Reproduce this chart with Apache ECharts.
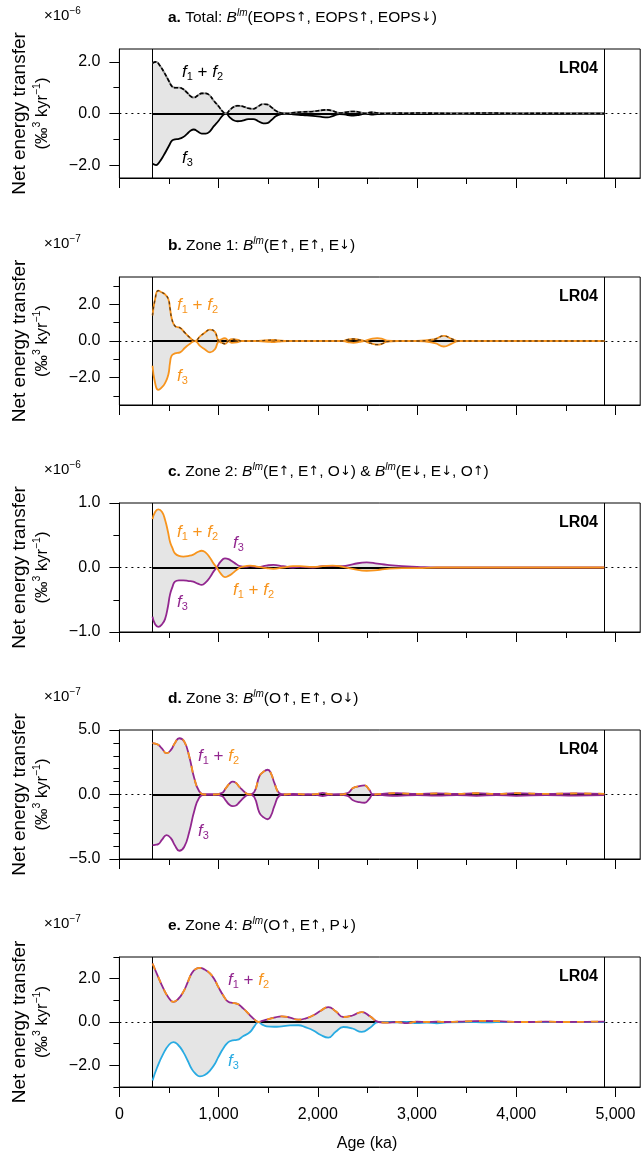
<!DOCTYPE html>
<html><head><meta charset="utf-8">
<script src="https://cdn.jsdelivr.net/npm/echarts@6/dist/echarts.min.js"></script>
<style>html,body{margin:0;padding:0;background:#fff}#c{width:641px;height:1160px}</style>
</head><body><div id="c"></div>
<script>
// ---------------- DATA ----------------
const recordStart = 334, recordEnd = 4888;   // ka, span of LR04 analysed
const xMax = 5250;
const xTickMajor = [0, 1000, 2000, 3000, 4000, 5000];
const xTickMinor = [500, 1500, 2500, 3500, 4500];

// Panel a (x1e-6)
const agesA = [334,370,400,450,500,530,560,600,640,680,720,750,790,830,870,910,950,1000,1040,1075,1110,1150,1190,1240,1300,1350,1400,1450,1490,1530,1580,1630,1680,1750,1850,1950,2050,2100,2150,2220,2300,2360,2420,2480,2540,2600,2700,2800,2900,3000,3200,3400,3700,4000,4300,4600,4888];
const f12A = [1.95,2.0,1.9,1.6,1.25,1.05,1.0,1.0,0.95,0.82,0.66,0.62,0.7,0.78,0.78,0.7,0.5,0.28,0.08,0.0,0.12,0.25,0.3,0.28,0.2,0.18,0.28,0.36,0.35,0.25,0.1,0.02,0.0,0.03,0.06,0.08,0.13,0.14,0.1,0.02,0.06,0.08,0.05,0.0,0.05,0.02,0.0,0.02,0.01,0.02,0.01,0.0,0.02,0.0,0.01,0.0,0.0];
const f3A  = [-1.95,-2.0,-1.9,-1.6,-1.25,-1.05,-1.0,-0.98,-0.92,-0.8,-0.66,-0.62,-0.7,-0.78,-0.78,-0.7,-0.5,-0.28,-0.08,0.0,-0.14,-0.26,-0.3,-0.28,-0.22,-0.22,-0.3,-0.38,-0.37,-0.26,-0.1,-0.02,0.0,-0.03,-0.06,-0.09,-0.14,-0.15,-0.1,-0.02,-0.06,-0.08,-0.05,0.0,-0.04,-0.02,0.0,-0.02,-0.01,-0.02,-0.01,0.0,-0.02,0.0,-0.01,0.0,0.0];

// Panel b (x1e-7)
const agesB = [334,360,392,430,460,493,510,527,560,611,661,712,762,812,860,913,963,995,1030,1064,1100,1132,1183,1230,1300,1400,1500,1550,1600,1700,1900,2100,2250,2300,2360,2420,2470,2530,2600,2650,2700,2800,3000,3180,3270,3350,3420,3600,3900,4200,4500,4888];
const f12B = [1.4,2.3,2.75,2.65,2.55,2.3,1.8,1.25,0.82,0.72,0.45,0.18,0.0,0.25,0.45,0.62,0.5,0.05,-0.1,-0.15,0.0,0.1,0.08,0.0,0.0,0.01,0.04,0.06,0.03,0.0,0.0,0.0,0.0,0.08,0.11,0.06,0.0,-0.12,-0.2,-0.15,-0.03,0.0,0.0,0.1,0.28,0.12,0.0,0.0,0.0,0.0,0.0,0.0];
const f3B  = [-1.35,-2.3,-2.67,-2.52,-2.3,-1.85,-1.2,-0.8,-0.68,-0.62,-0.37,-0.15,0.0,-0.27,-0.45,-0.62,-0.45,-0.05,0.1,0.15,0.0,-0.1,-0.08,0.0,0.0,-0.01,-0.04,-0.06,-0.03,0.0,0.0,0.0,0.0,-0.06,-0.1,-0.05,0.0,0.1,0.16,0.12,0.02,0.0,0.0,-0.12,-0.3,-0.14,0.0,0.0,0.0,0.0,0.0,0.0];

// Panel c (x1e-6)
const agesC = [334,360,392,430,460,490,510,535,560,600,644,700,745,790,830,870,913,950,981,1020,1064,1100,1132,1180,1216,1270,1317,1400,1480,1552,1650,1750,1821,1950,2050,2150,2250,2350,2493,2600,2700,2850,3000,3200,3400,3700,4000,4400,4888];
const f12C = [0.75,0.86,0.9,0.86,0.74,0.55,0.4,0.3,0.22,0.18,0.17,0.18,0.2,0.24,0.26,0.23,0.15,0.06,0.0,-0.09,-0.15,-0.13,-0.1,-0.04,0.0,0.02,0.03,0.01,-0.01,-0.02,0.0,0.02,0.02,0.01,0.02,0.03,0.01,-0.02,-0.05,-0.04,-0.02,-0.01,-0.01,0,0,0,0,0,0];
const f3C  = [-0.76,-0.88,-0.92,-0.88,-0.8,-0.6,-0.42,-0.3,-0.22,-0.2,-0.2,-0.21,-0.22,-0.25,-0.27,-0.23,-0.15,-0.06,0.0,0.09,0.14,0.13,0.1,0.05,0.02,0.01,0.02,0.01,0.03,0.04,0.02,0.0,0.01,0.0,0.02,0.02,0.02,0.05,0.08,0.06,0.04,0.02,0.01,0,0,0,0,0,0];

// Panel d (x1e-7)
const agesD = [334,360,392,430,475,520,560,604,654,704,754,804,855,950,1030,1075,1110,1142,1175,1209,1276,1310,1360,1411,1450,1495,1530,1562,1612,1662,1750,1900,2000,2048,2100,2200,2300,2355,2420,2472,2520,2556,2650,2800,3000,3200,3400,3600,3800,4000,4300,4600,4888];
const f12D = [3.98,3.95,3.85,3.55,3.2,3.46,4.0,4.36,4.1,2.95,1.28,0.25,0,0,0.1,0.51,0.85,1.0,0.9,0.6,0.1,0,0.2,1.4,1.75,1.92,1.6,0.9,0.1,0,0.05,0,0.05,0.12,0.05,0,0.1,0.5,0.65,0.7,0.35,0,0.05,0.1,0.05,0.08,0.05,0.1,0.05,0.1,0.05,0.08,0.05];
const f3D  = [-3.92,-3.9,-3.85,-3.5,-3.15,-3.4,-3.95,-4.36,-4.05,-2.9,-1.3,-0.25,0,0,-0.1,-0.5,-0.8,-0.9,-0.85,-0.6,-0.1,0,-0.2,-1.4,-1.75,-1.92,-1.6,-0.9,-0.1,0,-0.05,0,-0.05,-0.12,-0.05,0,-0.1,-0.45,-0.6,-0.64,-0.33,0,-0.05,-0.1,-0.05,-0.08,-0.05,-0.1,-0.05,-0.1,-0.05,-0.08,-0.05];

// Panel e (x1e-7)
const agesE = [334,380,443,500,544,590,644,690,728,770,812,860,913,960,997,1050,1098,1140,1183,1250,1317,1360,1401,1440,1485,1560,1636,1720,1804,1880,1955,2030,2106,2180,2258,2350,2443,2530,2611,2700,2800,2900,3000,3100,3200,3300,3500,3700,3900,4100,4300,4500,4700,4888];
const f12E = [2.7,2.2,1.55,1.1,0.93,1.05,1.39,1.85,2.24,2.45,2.5,2.42,2.24,1.95,1.62,1.2,0.93,0.88,0.85,0.62,0.31,0.12,0,0.05,0.11,0.2,0.26,0.2,0.11,0.17,0.31,0.52,0.69,0.5,0.23,0.3,0.46,0.25,0,-0.03,0,-0.05,0.02,0,0.02,0,0.03,0.05,0.02,0,0.02,0,0.01,0.02];
const f3E  = [-2.7,-2.1,-1.46,-1.05,-0.93,-1.05,-1.39,-1.8,-2.16,-2.4,-2.51,-2.45,-2.24,-1.95,-1.62,-1.2,-0.93,-0.85,-0.83,-0.65,-0.46,-0.2,0,-0.12,-0.2,-0.22,-0.2,-0.16,-0.15,-0.25,-0.39,-0.6,-0.72,-0.45,-0.23,-0.3,-0.46,-0.25,0,0,-0.02,0,-0.05,-0.03,-0.06,-0.02,0,-0.02,0,0,0,0,0,0];

const yMaxes   = [2.5, 3.5, 1.0, 5.0, 3.0];
const yMajors  = [[-2,0,2],[-2,0,2],[-1,0,1],[-5,0,5],[-2,0,2]];
const yMinors  = [[-1,1],[-3,-1,1,3],[-0.5,0.5],[-4,-3,-2,-1,1,2,3,4],[-3,-1,1,3]];
const exponents = ['\u22126','\u22127','\u22126','\u22127','\u22127'];

// ---------------- STYLE ----------------
const FONT = '"Liberation Sans", Arial, Helvetica, sans-serif';
const ARROWFONT = '"DejaVu Sans", sans-serif';
const ORANGE = '#F7941D', PURPLE = '#92278F', BLUE = '#29ABE2', FILL = '#e5e5e5';
const GRID_TOPS = [49, 277, 503, 730, 957];
const GRID_H = [129, 128, 129, 129, 130];
const GRID_LEFT = 119.4, GRID_W = 520.8;

const panels = [
  {ages: agesA, f12: f12A, f3: f3A, c12: '#8c8c8c', over: {color:'#000', type:[4,2], width:1.6}, c3: '#000'},
  {ages: agesB, f12: f12B, f3: f3B, c12: ORANGE, over: {color:'rgba(70,45,20,0.85)', type:[3,3], width:1.3}, c3: ORANGE},
  {ages: agesC, f12: f12C, f3: f3C, c12: ORANGE, over: null, c3: PURPLE},
  {ages: agesD, f12: f12D, f3: f3D, c12: PURPLE, over: {color: ORANGE, type:[7,7], width:1.8}, c3: PURPLE},
  {ages: agesE, f12: f12E, f3: f3E, c12: PURPLE, over: {color: ORANGE, type:[7,7], width:1.8}, c3: BLUE}
];

const pts = (ages, v) => ages.map((a, i) => [a, v[i]]);
const fmtY = v => (v < 0 ? '\u2212' : '') + Math.abs(v).toFixed(1);
const fmtX = v => v === 0 ? '0' : v.toLocaleString('en-US');

const grid = [], xAxis = [], yAxis = [], series = [];
panels.forEach((p, i) => {
  grid.push({left: GRID_LEFT, top: GRID_TOPS[i], width: GRID_W, height: GRID_H[i], show: true, borderColor: '#000', borderWidth: 1, backgroundColor: 'transparent'});
  xAxis.push({gridIndex: i, type: 'value', min: 0, max: xMax, position: 'bottom',
    axisLine: {show: true, onZero: false, lineStyle: {color: '#000', width: 1}},
    axisTick: {show: true, length: 10, customValues: xTickMajor, lineStyle: {color: '#000', width: 1}},
    axisLabel: {show: i === 4, customValues: xTickMajor, formatter: fmtX, color: '#000', fontSize: 16, fontFamily: FONT, margin: 20},
    splitLine: {show: false}});
  xAxis.push({gridIndex: i, type: 'value', min: 0, max: xMax, position: 'bottom',
    axisLine: {show: false, onZero: false},
    axisTick: {show: true, length: 6, customValues: xTickMinor, lineStyle: {color: '#000', width: 1}},
    axisLabel: {show: false}, splitLine: {show: false}});
  yAxis.push({gridIndex: i, type: 'value', min: -yMaxes[i], max: yMaxes[i], position: 'left',
    axisLine: {show: true, onZero: false, lineStyle: {color: '#000', width: 1}},
    axisTick: {show: true, length: 10, customValues: yMajors[i], lineStyle: {color: '#000', width: 1}},
    axisLabel: {show: true, customValues: yMajors[i], formatter: fmtY, color: '#000', fontSize: 16, fontFamily: FONT, margin: 19},
    splitLine: {show: false}});
  yAxis.push({gridIndex: i, type: 'value', min: -yMaxes[i], max: yMaxes[i], position: 'left',
    axisLine: {show: false, onZero: false},
    axisTick: {show: true, length: 6, customValues: yMinors[i], lineStyle: {color: '#000', width: 1}},
    axisLabel: {show: false}, splitLine: {show: false}});

  const xi = 2 * i, yi = 2 * i;
  const base = {type: 'line', xAxisIndex: xi, yAxisIndex: yi, smooth: 0.5, showSymbol: false, symbol: 'none', silent: true, animation: false};
  series.push(Object.assign({}, base, {data: pts(p.ages, p.f12), lineStyle: {width: 0, opacity: 0}, areaStyle: {color: FILL, opacity: 1}, z: 1}));
  series.push(Object.assign({}, base, {data: pts(p.ages, p.f3), lineStyle: {width: 0, opacity: 0}, areaStyle: {color: FILL, opacity: 1}, z: 1}));
  series.push(Object.assign({}, base, {data: [[recordStart, 0]], lineStyle: {opacity: 0}, z: 2,
    markLine: {silent: true, symbol: 'none', z: 2, label: {show: false}, animation: false,
      data: [
        {yAxis: 0, lineStyle: {color: '#000', type: [2, 4], width: 1}},
        {xAxis: recordStart, lineStyle: {color: '#000', type: 'solid', width: 1}},
        {xAxis: recordEnd, lineStyle: {color: '#000', type: 'solid', width: 1}},
        [{coord: [recordStart, 0], lineStyle: {color: '#000', type: 'solid', width: 1.8}}, {coord: [recordEnd, 0]}]
      ]}}));
  series.push(Object.assign({}, base, {data: pts(p.ages, p.f3), lineStyle: {color: p.c3, width: 1.8}, z: 3}));
  series.push(Object.assign({}, base, {data: pts(p.ages, p.f12), lineStyle: {color: p.c12, width: 1.8}, z: 3}));
  if (p.over) series.push(Object.assign({}, base, {data: pts(p.ages, p.f12), lineStyle: p.over, z: 4}));
});

// ---------------- TEXT ----------------
const graphic = [];
const TS = 15.5;
const titleRich = {
  b: {fontWeight: 'bold', fontSize: TS, fontFamily: FONT, fill: '#000', lineHeight: 20},
  n: {fontSize: TS, fontFamily: FONT, fill: '#000', lineHeight: 20},
  a: {fontSize: 13, fontFamily: ARROWFONT, fill: '#000', lineHeight: 20},
  i: {fontStyle: 'italic', fontSize: TS, fontFamily: FONT, fill: '#000', lineHeight: 20},
  s: {fontStyle: 'italic', fontSize: 10, fontFamily: FONT, fill: '#000', verticalAlign: 'top', lineHeight: 11}
};
const U = '{a|\u2191}', D = '{a|\u2193}';
const titles = [
  `{b|a.}{n| Total: }{i|B}{s|lm}{n|(EOPS}${U}{n|, EOPS}${U}{n|, EOPS}${D}{n|)}`,
  `{b|b.}{n| Zone 1: }{i|B}{s|lm}{n|(E}${U}{n|, E}${U}{n|, E}${D}{n|)}`,
  `{b|c.}{n| Zone 2: }{i|B}{s|lm}{n|(E}${U}{n|, E}${U}{n|, O}${D}{n|) & }{i|B}{s|lm}{n|(E}${D}{n|, E}${D}{n|, O}${U}{n|)}`,
  `{b|d.}{n| Zone 3: }{i|B}{s|lm}{n|(O}${U}{n|, E}${U}{n|, O}${D}{n|)}`,
  `{b|e.}{n| Zone 4: }{i|B}{s|lm}{n|(O}${U}{n|, E}${U}{n|, P}${D}{n|)}`
];
function txt(x, y, text, rich, opts) {
  return Object.assign({type: 'text', x: x, y: y, silent: true, z: 100,
    style: Object.assign({text: text, rich: rich, fontFamily: FONT, fontSize: 16, fill: '#000',
      align: 'left', verticalAlign: 'middle', textAlign: 'left', textVerticalAlign: 'middle'}, opts && opts.style || {})},
    opts && opts.el || {});
}
const expRich = {
  n: {fontSize: 15, fontFamily: FONT, fill: '#000', lineHeight: 20},
  s: {fontSize: 10, fontFamily: FONT, fill: '#000', verticalAlign: 'top', lineHeight: 11}
};
const yNameRich = {
  n: {fontSize: 16.5, fontFamily: FONT, fill: '#000', lineHeight: 20},
  s: {fontSize: 10.5, fontFamily: FONT, fill: '#000', verticalAlign: 'top', lineHeight: 11}
};
function fRich(col) {
  return {fontStyle: 'italic', fontSize: 17, fontFamily: FONT, fill: col, lineHeight: 20};
}
function sRich(col) {
  return {fontSize: 11, fontFamily: FONT, fill: col, verticalAlign: 'bottom', lineHeight: 10};
}
function pRich(col) {
  return {fontSize: 17, fontFamily: FONT, fill: col, lineHeight: 20};
}
const labRich = {
  fK: fRich('#000'), sK: sRich('#000'), pK: pRich('#000'),
  fO: fRich(ORANGE), sO: sRich(ORANGE), pO: pRich(ORANGE),
  fP: fRich(PURPLE), sP: sRich(PURPLE), pP: pRich(PURPLE),
  fB: fRich(BLUE), sB: sRich(BLUE), pB: pRich(BLUE)
};
const f12Text = (c1, c2) => `{f${c1}|f}{s${c1}|1}{p${c1}| + }{f${c2}|f}{s${c2}|2}`;
const f3Text = c => `{f${c}|f}{s${c}|3}`;

panels.forEach((p, i) => {
  const top = GRID_TOPS[i], mid = top + GRID_H[i] / 2;
  graphic.push(txt(168, top - 31, titles[i], titleRich));
  graphic.push(txt(44, top - 33, '{n|\u00d710}{s|' + exponents[i] + '}', expRich));
  graphic.push(txt(598, top + 20, 'LR04', null, {style: {fontWeight: 'bold', fontSize: 16, align: 'right', textAlign: 'right'}}));
  graphic.push(txt(20, mid, 'Net energy transfer', null, {style: {fontSize: 19, align: 'center', textAlign: 'center'}, el: {rotation: Math.PI / 2}}));
  graphic.push(txt(42, mid, '{n|(\u2030}{s|3}{n| kyr}{s|\u22121}{n|)}', yNameRich, {style: {align: 'center', textAlign: 'center'}, el: {rotation: Math.PI / 2}}));
});
// curve labels
graphic.push(txt(182, 72, f12Text('K', 'K'), labRich));
graphic.push(txt(182, 158, f3Text('K'), labRich));
graphic.push(txt(177, 305, f12Text('O', 'O'), labRich));
graphic.push(txt(177, 376, f3Text('O'), labRich));
graphic.push(txt(177, 532, f12Text('O', 'O'), labRich));
graphic.push(txt(233, 543, f3Text('P'), labRich));
graphic.push(txt(233, 590, f12Text('O', 'O'), labRich));
graphic.push(txt(177, 602, f3Text('P'), labRich));
graphic.push(txt(198, 756, f12Text('P', 'O'), labRich));
graphic.push(txt(198, 831, f3Text('P'), labRich));
graphic.push(txt(228, 980, f12Text('P', 'O'), labRich));
graphic.push(txt(228, 1061, f3Text('B'), labRich));
// x-axis name
graphic.push(txt(367, 1144, 'Age (ka)', null, {style: {fontSize: 16, align: 'center', textAlign: 'center'}}));

const chart = echarts.init(document.getElementById('c'), null, {renderer: 'canvas'});
chart.setOption({animation: false, backgroundColor: '#fff', grid, xAxis, yAxis, series, graphic});
</script>
</body></html>
